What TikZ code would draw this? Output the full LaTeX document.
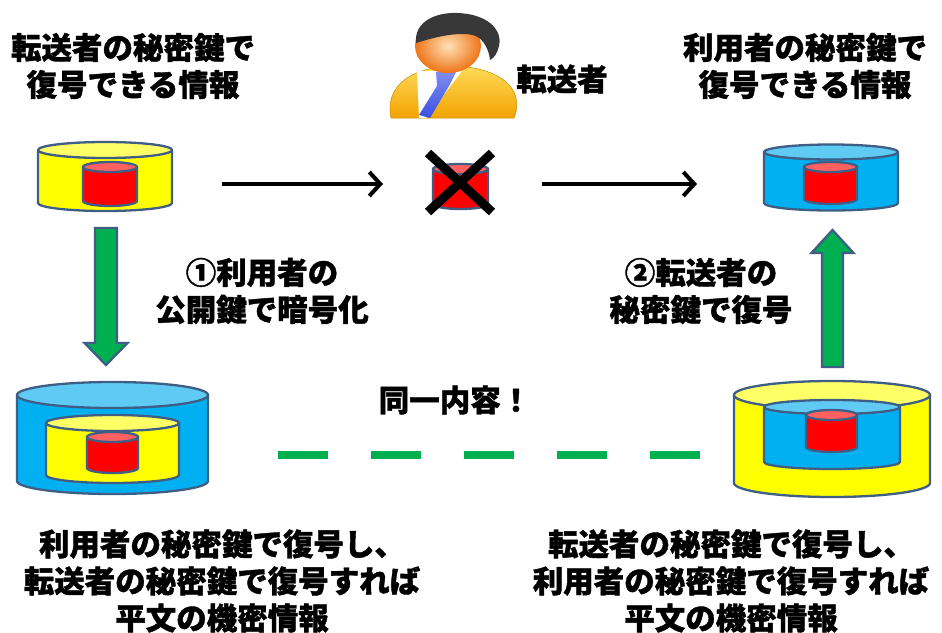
\documentclass[tikz,border=0pt]{standalone}
\usepackage{fontspec}
\newfontfamily\jp{Noto Sans CJK JP}[BoldFeatures={FakeBold=1.3}]
\usetikzlibrary{arrows.meta}

\definecolor{drumedge}{HTML}{3E5E86}
\definecolor{ybody}{HTML}{FFFF00}
\definecolor{ytop}{HTML}{FFFF66}
\definecolor{bbody}{HTML}{00B0F0}
\definecolor{btop}{HTML}{5FCBF5}
\definecolor{rbody}{HTML}{FF0000}
\definecolor{rtop}{HTML}{FF6161}
\definecolor{okgreen}{HTML}{00B050}
\definecolor{tieblue}{HTML}{3B4FE6}
\definecolor{hair}{HTML}{383838}
\definecolor{suitlight}{HTML}{FFDA5A}
\definecolor{suitdark}{HTML}{F2A400}
\definecolor{skinlight}{HTML}{FFE2B8}
\definecolor{skindark}{HTML}{EE7418}

% upright drum: centre x, half width, top-centre y, bottom-centre y, ellipse radius, body, lid
\newcommand\drum[7]{%
  \filldraw[drumline, fill=#6] (#1-#2,#3) -- (#1-#2,#4)
    arc[start angle=180, end angle=0, x radius=#2, y radius=#5] -- (#1+#2,#3) -- cycle;
  \filldraw[drumline, fill=#7] (#1,#3) ellipse[x radius=#2, y radius=#5];
}

\tikzset{
  drumline/.style={draw=drumedge, line width=2.3pt, line join=round},
  holder/.style={minimum width=#1, inner sep=0, outer sep=0},
  lbl/.style={font=\jp\bfseries\fontsize{30.5}{37}\selectfont, align=center, inner sep=0, text=black},
  flow/.style={line width=4pt, -{Straight Barb[length=11pt, width=24pt, line width=4pt]}},
  blockarrow/.style={draw=drumedge, fill=okgreen, line width=2.3pt, line join=miter},
  samedash/.style={draw=okgreen, line width=8.5pt, dash pattern=on 50pt off 43pt},
}

\begin{document}
\begin{tikzpicture}[x=1pt, y=-1pt]
  \useasboundingbox (0,0) rectangle (942,632);
  \fill[white] (0,0) rectangle (942,632);

  % invisible frames around each drum, used as connector ends
  \node[holder=134pt, minimum height=69pt]  (tl) at (105,176.5) {};
  \node[holder=64pt,  minimum height=59pt]  (mid) at (460,182.5) {};
  \node[holder=134pt, minimum height=66pt]  (tr) at (831,177) {};
  \node[holder=191pt, minimum height=112pt] (bl) at (112.5,438) {};
  \node[holder=196pt, minimum height=116pt] (br) at (832,439) {};
  \coordinate (flowrow) at (0,184);
  \coordinate (samerow) at (0,455);

  % top left: yellow drum holding a red drum
  \drum{105}{67}{150}{203}{8}{ybody}{ytop}
  \drum{110}{27}{167}{201}{5}{rbody}{rtop}

  % top right: blue drum holding a red drum
  \drum{831}{67}{152}{203}{7.5}{bbody}{btop}
  \drum{830.5}{26.5}{167}{199}{5}{rbody}{rtop}

  % middle: the red drum, crossed out
  \drum{460.5}{27.5}{169}{204}{5}{rbody}{rtop}
  \draw[line width=9pt] (mid.north west) -- (mid.south east);
  \draw[line width=9pt] (mid.north east) -- (mid.south west);

  % bottom left: blue around yellow around red
  \drum{112.5}{95.5}{395}{481}{13}{bbody}{btop}
  \drum{112.5}{66.5}{423}{475}{8}{ybody}{ytop}
  \drum{112.5}{25.5}{437}{468}{5}{rbody}{rtop}

  % bottom right: yellow around blue around red
  \drum{832}{98}{395}{483}{14}{ybody}{ytop}
  \drum{832}{68}{407}{462}{7}{bbody}{btop}
  \drum{831.5}{25.5}{415}{447}{5}{rbody}{rtop}

  % flow arrows along the top row
  \draw[flow, shorten <=50pt, shorten >=45pt] (tl.east |- flowrow) -- (mid.west |- flowrow);
  \draw[flow, shorten <=50pt, shorten >=67pt] (mid.east |- flowrow) -- (tr.west |- flowrow);

  % green block arrows: encrypt (down, left) and decrypt (up, right)
  \draw[blockarrow] (95,228) -- (117,228) -- (117,343) -- (127.5,343)
    -- (106,365) -- (84.5,343) -- (95,343) -- cycle;
  \draw[blockarrow] (822,367) -- (843,367) -- (843,253) -- (853.5,253)
    -- (832.5,230) -- (811.5,253) -- (822,253) -- cycle;

  % dashed link between the two bottom drums
  \draw[samedash, shorten <=70pt, shorten >=34pt] (bl.east |- samerow) -- (br.west |- samerow);

  % the forwarder figure
  \shade[top color=suitlight, bottom color=suitdark, draw=suitdark!85!black, line width=0.5pt]
    (391,118) .. controls (384,84) and (414,67) .. (453,66)
    .. controls (494,67) and (522,84) .. (516,112) -- (514,118) -- cycle;
  \fill[white] (417,71) -- (462,71) -- (426,118) -- (419,118) -- cycle;
  \shade[top color=tieblue!65!white, bottom color=tieblue]
    (436,72) -- (456,72) -- (449,86) -- (430,118) -- (419,115) -- (437,86) -- cycle;
  \shade[inner color=skinlight, outer color=skindark] (448,46) ellipse[x radius=33, y radius=27];
  \fill[hair]
    (416,43) .. controls (414,22) and (435,12) .. (458,13)
    .. controls (485,14) and (503,28) .. (499,46)
    .. controls (497,54) and (494,58) .. (490,60)
    .. controls (489,50) and (484,40) .. (476,36)
    .. controls (462,31) and (438,36) .. (416,43) -- cycle;

  % labels
  \node[lbl] (t1) at (133,66) {転送者の秘密鍵で\\復号できる情報};
  \node[lbl] (t2) at (805,66) {利用者の秘密鍵で\\復号できる情報};
  \node[lbl] (t3) at (562,79) {転送者};
  \node[lbl] (t4) at (262,291) {①利用者の\\公開鍵で暗号化};
  \node[lbl] (t5) at (701,291) {②転送者の\\秘密鍵で復号};
  \node[lbl] (t6) at (455,400) {同一内容！};
  \node[lbl] (t7) at (222,581) {利用者の秘密鍵で復号し、\\転送者の秘密鍵で復号すれば\\平文の機密情報};
  \node[lbl] (t8) at (731,581) {転送者の秘密鍵で復号し、\\利用者の秘密鍵で復号すれば\\平文の機密情報};
\end{tikzpicture}
\end{document}
